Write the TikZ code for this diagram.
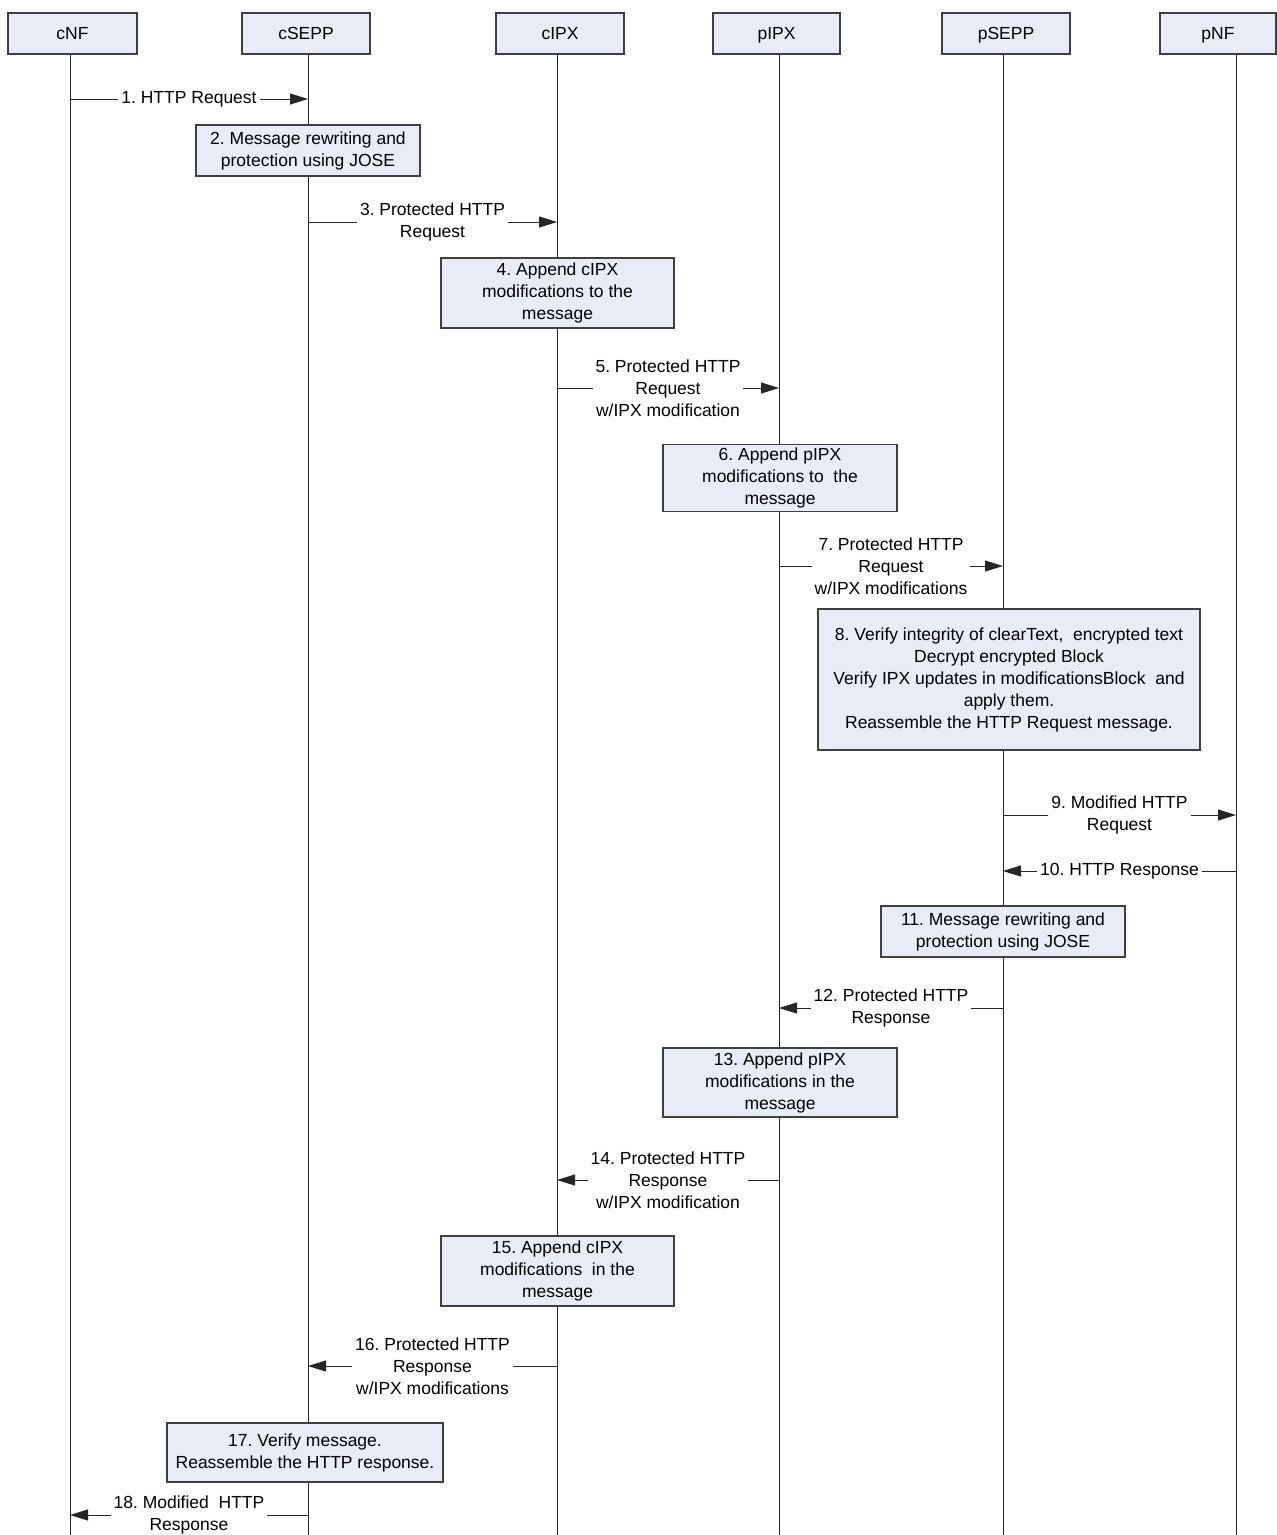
\documentclass[tikz,border=0pt]{standalone}
\usepackage{fontspec}
\setmainfont{Liberation Sans}
\usetikzlibrary{arrows.meta}
\definecolor{boxfill}{HTML}{E7ECF6}
\definecolor{edgegray}{HTML}{404040}
\newcommand{\diafont}{\fontsize{17.5}{22}\selectfont\frenchspacing}
\tikzset{
  hdr/.style={draw=edgegray, line width=1.3pt, fill=boxfill, minimum height=41pt, inner sep=0pt, text height=12.6pt, text depth=0pt, font=\diafont},
  actbox/.style={draw=edgegray, line width=1.3pt, fill=boxfill, align=center, inner sep=0pt, font=\diafont},
  life/.style={draw=black!85, line width=1pt},
  msg/.style={draw=black!85, line width=1pt, -{Triangle[length=18pt,width=11pt]}},
  lbl/.style={fill=white, align=center, inner xsep=3pt, inner ysep=1pt, font=\diafont, text=black},
}
\begin{document}
\begin{tikzpicture}[x=1pt,y=-1pt]
\useasboundingbox (0,0) rectangle (1277,1535);
% lifeline x positions
\coordinate (xcNF) at (70,0);
\coordinate (xcSEPP) at (308,0);
\coordinate (xcIPX) at (557,0);
\coordinate (xpIPX) at (779,0);
\coordinate (xpSEPP) at (1003,0);
\coordinate (xpNF) at (1236,0);
\coordinate (bot) at (0,1535);
\coordinate (top) at (0,54);
% lifelines
\draw[life] (xcNF |- top) -- (xcNF |- bot);
\draw[life] (xcSEPP |- top) -- (xcSEPP |- bot);
\draw[life] (xcIPX |- top) -- (xcIPX |- bot);
\draw[life] (xpIPX |- top) -- (xpIPX |- bot);
\draw[life] (xpSEPP |- top) -- (xpSEPP |- bot);
\draw[life] (xpNF |- top) -- (xpNF |- bot);
% headers
\node[hdr, minimum width=129pt] (hcNF) at (72.5,33.5) {cNF};
\node[hdr, minimum width=128pt] (hcSEPP) at (306,33.5) {cSEPP};
\node[hdr, minimum width=128pt] (hcIPX) at (560,33.5) {cIPX};
\node[hdr, minimum width=127pt] (hpIPX) at (776.5,33.5) {pIPX};
\node[hdr, minimum width=128pt] (hpSEPP) at (1006,33.5) {pSEPP};
\node[hdr, minimum width=116pt] (hpNF) at (1218,33.5) {pNF};
% 1
\draw[msg] (xcNF |- 0,99) -- node[lbl] (l1) {1. HTTP Request} (xcSEPP |- 0,99);
% 2
\node[actbox, minimum width=224pt, minimum height=51pt] (b2) at (308,150.5) {2. Message rewriting and\\protection using JOSE};
% 3
\draw[msg] (xcSEPP |- 0,222) -- node[lbl] (l3) {3. Protected HTTP\\Request} (xcIPX |- 0,222);
% 4
\node[actbox, minimum width=233pt, minimum height=70pt] (b4) at (557.5,293) {4. Append cIPX\\modifications to the\\message};
% 5
\draw[msg] (xcIPX |- 0,388) -- node[lbl] (l5) {5. Protected HTTP\\Request\\w/IPX modification} (xpIPX |- 0,388);
% 6
\node[actbox, minimum width=234pt, minimum height=67pt] (b6) at (780,478) {6. Append pIPX\\modifications to~ the\\message};
% 7
\draw[msg] (xpIPX |- 0,566) -- node[lbl] (l7) {7. Protected HTTP\\Request\\w/IPX modifications} (xpSEPP |- 0,566);
% 8
\node[actbox, minimum width=382pt, minimum height=141pt] (b8) at (1009,679.5) {8. Verify integrity of clearText,~ encrypted text\\Decrypt encrypted Block\\Verify IPX updates in modificationsBlock~ and\\apply them.\\Reassemble the HTTP Request message.};
% 9
\draw[msg] (xpSEPP |- 0,815) -- node[lbl] (l9) {9. Modified HTTP\\Request} (xpNF |- 0,815);
% 10
\draw[msg] (xpNF |- 0,871) -- node[lbl] (l10) {10. HTTP Response} (xpSEPP |- 0,871);
% 11
\node[actbox, minimum width=244pt, minimum height=51pt] (b11) at (1003,931.5) {11. Message rewriting and\\protection using JOSE};
% 12
\draw[msg] (xpSEPP |- 0,1008) -- node[lbl] (l12) {12. Protected HTTP\\Response} (xpIPX |- 0,1008);
% 13
\node[actbox, minimum width=234pt, minimum height=69pt] (b13) at (780,1082.5) {13. Append pIPX\\modifications in the\\message};
% 14
\draw[msg] (xpIPX |- 0,1180) -- node[lbl] (l14) {14. Protected HTTP\\Response\\w/IPX modification} (xcIPX |- 0,1180);
% 15
\node[actbox, minimum width=233pt, minimum height=70pt] (b15) at (557.5,1271) {15. Append cIPX\\modifications~ in the\\message};
% 16
\draw[msg] (xcIPX |- 0,1366) -- node[lbl] (l16) {16. Protected HTTP\\Response\\w/IPX modifications} (xcSEPP |- 0,1366);
% 17
\node[actbox, minimum width=276pt, minimum height=59pt] (b17) at (305,1452.5) {17. Verify message.\\Reassemble the HTTP response.};
% 18
\draw[msg] (xcSEPP |- 0,1515) -- node[lbl] (l18) {18. Modified~ HTTP\\Response} (xcNF |- 0,1515);
\end{tikzpicture}
\end{document}
